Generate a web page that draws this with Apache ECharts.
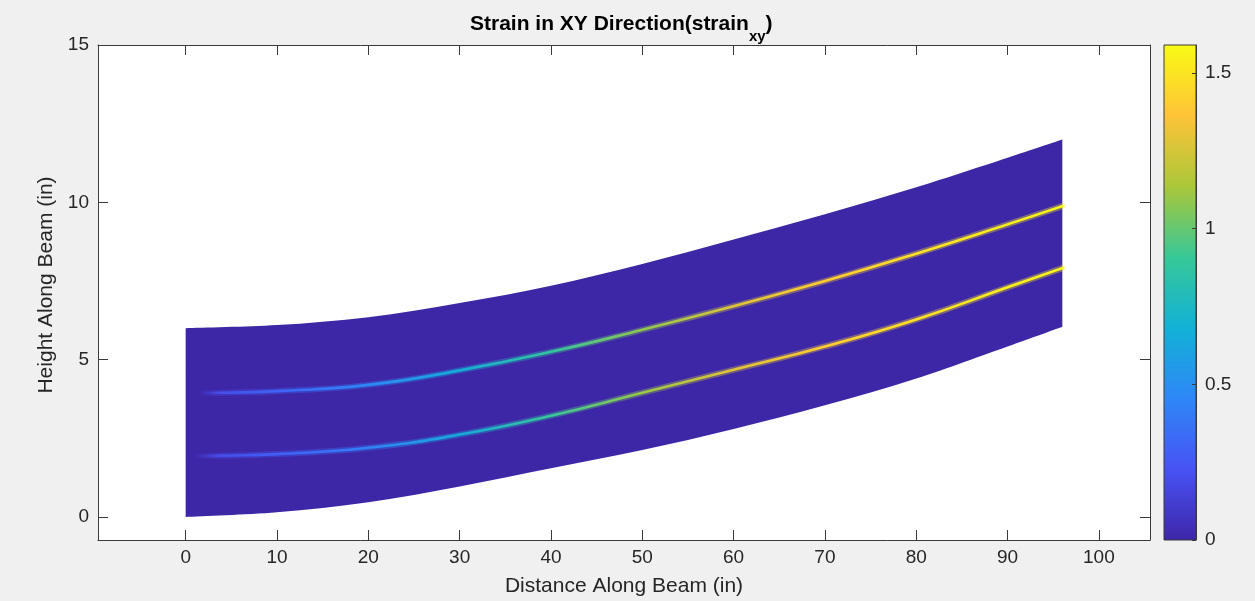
<!DOCTYPE html>
<html>
<head>
<meta charset="utf-8">
<script src="https://cdn.jsdelivr.net/npm/echarts@6/dist/echarts.min.js"></script>
<style>
html,body{margin:0;padding:0;background:#f0f0f0;}
#chart{width:1255px;height:601px;}
</style>
</head>
<body>
<div id="chart"></div>
<script>
// ---------------- data ----------------
// beam outline (in)
const beamX      = [0, 10, 20, 30, 40, 50, 60, 70, 80, 90, 96];
const beamBottom = [0, 0.15, 0.47, 0.97, 1.55, 2.13, 2.8, 3.55, 4.4, 5.42, 6.05];
const beamTop    = [6.0, 6.1, 6.35, 6.8, 7.35, 8.04, 8.82, 9.62, 10.48, 11.42, 12.0];

// lower strain band
const lowerX      = [1.2, 4, 10, 20, 30, 40, 50, 60, 70, 80, 90, 96];
const lowerY      = [1.94, 1.95, 2.0, 2.2, 2.62, 3.22, 3.95, 4.68, 5.42, 6.28, 7.3, 7.91];
const lowerStrain = [0.0, 0.2, 0.28, 0.43, 0.64, 0.9, 1.1, 1.28, 1.4, 1.48, 1.54, 1.57];

// upper strain band
const upperX      = [1.7, 4, 10, 20, 30, 40, 50, 60, 70, 80, 90, 96];
const upperY      = [3.94, 3.95, 4.0, 4.2, 4.66, 5.25, 5.95, 6.7, 7.5, 8.37, 9.3, 9.88];
const upperStrain = [0.0, 0.2, 0.3, 0.45, 0.66, 0.88, 1.08, 1.27, 1.4, 1.48, 1.54, 1.58];

// axis ranges / colour range
const xRange = [-9.6, 105.6];
const yRange = [-0.73, 15];
const cRange = [0, 1.59];
const cTickStep = 0.5;

const titleMain = 'Strain in XY Direction(strain';
const titleSub = 'xy';
const xName = 'Distance Along Beam (in)';
const yName = 'Height Along Beam (in)';

// ---------------- style ----------------
const PARULA = ['#3e26a8','#4852f4','#2e87f7','#12b1d6','#37c897','#abc739','#fec338','#f9fb15'];
const BEAM = '#3d27a6';
const AX = '#3a3a3a';
const TXT = '#262626';
const FONT = '"Liberation Sans", Arial, Helvetica, sans-serif';

function lerpColor(t) {
  if (echarts.color && echarts.color.lerp) return echarts.color.lerp(Math.max(0, Math.min(1, t)), PARULA);
  return PARULA[Math.round(t * (PARULA.length - 1))];
}
function gradientFor(xs, vs) {
  const x0 = xs[0], x1 = xs[xs.length - 1];
  const stops = xs.map((x, i) => ({
    offset: (x - x0) / (x1 - x0),
    color: lerpColor((vs[i] - cRange[0]) / (cRange[1] - cRange[0]))
  }));
  return new echarts.graphic.LinearGradient(0, 0, 1, 0, stops);
}
const cbarGradient = new echarts.graphic.LinearGradient(0, 1, 0, 0,
  PARULA.map((c, i) => ({ offset: i / (PARULA.length - 1), color: c })));

// Catmull-Rom curve through already projected pixel points -> SVG path commands
function curveCmds(pts) {
  let d = '';
  for (let i = 0; i < pts.length - 1; i++) {
    const p0 = pts[i - 1] || pts[i], p1 = pts[i], p2 = pts[i + 1], p3 = pts[i + 2] || pts[i + 1];
    const c1 = [p1[0] + (p2[0] - p0[0]) / 6, p1[1] + (p2[1] - p0[1]) / 6];
    const c2 = [p2[0] - (p3[0] - p1[0]) / 6, p2[1] - (p3[1] - p1[1]) / 6];
    d += ' C' + c1[0] + ' ' + c1[1] + ' ' + c2[0] + ' ' + c2[1] + ' ' + p2[0] + ' ' + p2[1];
  }
  return d;
}

function strainLine(name, xs, ys, vs, width, opacity, z) {
  return {
    type: 'line', name: name, xAxisIndex: 0, yAxisIndex: 0, z: z,
    data: xs.map((x, i) => [x, ys[i]]),
    smooth: true, showSymbol: false, symbol: 'none', silent: true,
    lineStyle: { width: width, opacity: opacity, color: gradientFor(xs, vs), cap: 'round' }
  };
}

const chart = echarts.init(document.getElementById('chart'), null, { renderer: 'canvas' });

const tickLabel = { fontFamily: FONT, fontSize: 19, color: TXT };

const option = {
  backgroundColor: '#f0f0f0',
  animation: false,
  title: {
    text: '{a|' + titleMain + '}{b|' + titleSub + '}{a|)}',
    left: 470, top: 14, padding: 0,
    textStyle: {
      rich: {
        a: { fontFamily: FONT, fontSize: 21, fontWeight: 'bold', color: '#000', lineHeight: 30, verticalAlign: 'top' },
        b: { fontFamily: FONT, fontSize: 15, fontWeight: 'bold', color: '#000', lineHeight: 16, verticalAlign: 'bottom' }
      }
    }
  },
  grid: [
    { left: 98, top: 45, width: 1052, height: 495, show: true, backgroundColor: '#ffffff', borderWidth: 0, containLabel: false, outerBoundsMode: 'none' },
    { left: 1164, top: 45, width: 32, height: 495, containLabel: false, outerBoundsMode: 'none' }
  ],
  xAxis: [
    {
      type: 'value', gridIndex: 0, position: 'bottom', min: xRange[0], max: xRange[1], splitNumber: 10, z: 10,
      axisLine: { show: true, onZero: false, lineStyle: { color: AX, width: 1 } },
      axisTick: { show: true, inside: true, length: 10, lineStyle: { color: AX } },
      axisLabel: Object.assign({ margin: 8, showMinLabel: false, showMaxLabel: false }, tickLabel),
      splitLine: { show: false },
      name: xName, nameLocation: 'middle', nameGap: 36,
      nameTextStyle: { fontFamily: FONT, fontSize: 21, color: TXT }
    },
    {
      type: 'value', gridIndex: 0, position: 'top', min: xRange[0], max: xRange[1], splitNumber: 10, z: 10,
      axisLine: { show: true, onZero: false, lineStyle: { color: AX, width: 1 } },
      axisTick: { show: true, inside: true, length: 10, lineStyle: { color: AX } },
      axisLabel: { show: false }, splitLine: { show: false }
    },
    { type: 'value', gridIndex: 1, min: 0, max: 1, show: false }
  ],
  yAxis: [
    {
      type: 'value', gridIndex: 0, position: 'left', min: yRange[0], max: yRange[1], splitNumber: 3, z: 10,
      axisLine: { show: true, onZero: false, lineStyle: { color: AX, width: 1 } },
      axisTick: { show: true, inside: true, length: 10, lineStyle: { color: AX } },
      axisLabel: Object.assign({ margin: 9, showMinLabel: false, showMaxLabel: true }, tickLabel),
      splitLine: { show: false },
      name: yName, nameLocation: 'middle', nameGap: 36,
      nameTextStyle: { fontFamily: FONT, fontSize: 21, color: TXT, padding: [0, 0, 0, 15] }
    },
    {
      type: 'value', gridIndex: 0, position: 'right', min: yRange[0], max: yRange[1], splitNumber: 3, z: 10,
      axisLine: { show: true, onZero: false, lineStyle: { color: AX, width: 1 } },
      axisTick: { show: true, inside: true, length: 10, lineStyle: { color: AX } },
      axisLabel: { show: false }, splitLine: { show: false }
    },
    {
      type: 'value', gridIndex: 1, position: 'right', min: cRange[0], max: cRange[1], interval: cTickStep, z: 10,
      axisLine: { show: true, onZero: false, lineStyle: { color: AX, width: 1 } },
      axisTick: { show: true, inside: true, length: 4, lineStyle: { color: AX } },
      axisLabel: Object.assign({ margin: 9, showMinLabel: true, showMaxLabel: false }, tickLabel),
      splitLine: { show: false }
    }
  ],
  series: [
    {
      // beam body: one closed outline from bottom and top edges
      type: 'custom', name: 'beam', xAxisIndex: 0, yAxisIndex: 0, z: 1, silent: true,
      encode: { x: 0, y: [1, 2] },
      data: beamX.map((x, i) => [x, beamBottom[i], beamTop[i]]),
      renderItem: function (params, api) {
        if (params.dataIndexInside !== 0) return null;
        const n = params.dataInsideLength;
        const bot = [], top = [];
        for (let i = 0; i < n; i++) {
          bot.push(api.coord([api.value(0, i), api.value(1, i)]));
          top.push(api.coord([api.value(0, i), api.value(2, i)]));
        }
        top.reverse();
        const d = 'M' + bot[0][0] + ' ' + bot[0][1] + curveCmds(bot) +
          ' L' + top[0][0] + ' ' + top[0][1] + curveCmds(top) + ' Z';
        return { type: 'path', shape: { pathData: d }, style: { fill: BEAM, stroke: null } };
      }
    },
    strainLine('lower-halo', lowerX, lowerY, lowerStrain, 6, 0.35, 2),
    strainLine('upper-halo', upperX, upperY, upperStrain, 6, 0.35, 2),
    strainLine('lower', lowerX, lowerY, lowerStrain, 2.6, 1, 3),
    strainLine('upper', upperX, upperY, upperStrain, 2.6, 1, 3),
    {
      type: 'custom', name: 'colorbar', xAxisIndex: 2, yAxisIndex: 2, silent: true,
      data: [[0, cRange[0], 1, cRange[1]]],
      renderItem: function (params, api) {
        const p0 = api.coord([api.value(0), api.value(1)]);
        const p1 = api.coord([api.value(2), api.value(3)]);
        return {
          type: 'rect',
          shape: { x: p0[0], y: p1[1], width: p1[0] - p0[0], height: p0[1] - p1[1] },
          style: { fill: cbarGradient, stroke: AX, lineWidth: 1 }
        };
      }
    }
  ]
};
chart.setOption(option);
</script>
</body>
</html>
